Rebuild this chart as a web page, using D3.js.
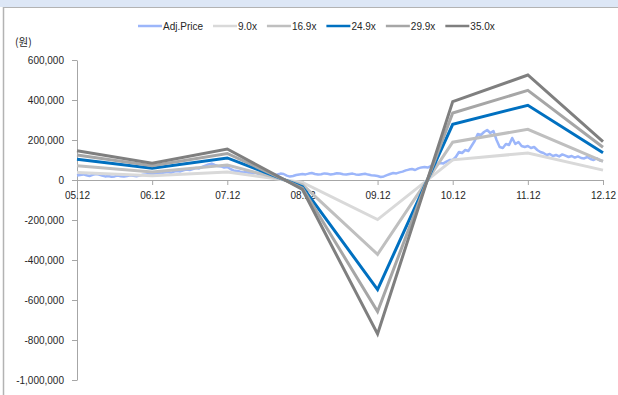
<!DOCTYPE html>
<html>
<head>
<meta charset="utf-8">
<script src="https://cdn.jsdelivr.net/npm/d3@7"></script>
<style>
  html, body { margin: 0; padding: 0; background: #fff; }
  svg { display: block; font-family: "Liberation Sans", Arial, "Noto Sans CJK KR", sans-serif; }
</style>
</head>
<body>
<svg id="chart" width="618" height="395"></svg>
<script>
// Year-end categories (yy.mm)
const categories = ["05.12", "06.12", "07.12", "08.12", "09.12", "10.12", "11.12", "12.12"];

// PER band values (won) at each year end
const band90  = [37700, 21400, 39900, -12200, -198000, 100700, 135000, 49300];
const band169 = [70800, 40200, 74900, -22800, -371800, 189100, 253500, 92600];
const band249 = [104300, 59300, 110300, -33600, -547800, 278600, 373500, 136500];
const band299 = [125300, 71200, 132500, -40400, -657800, 334600, 448500, 163900];
const band350 = [146700, 83300, 155100, -47300, -770000, 391700, 525000, 191800];

const bandNames = ["9.0x", "16.9x", "24.9x", "29.9x", "35.0x"];

// Adjusted share price (won), twice a month from 05.12 to 12.12
const adjPrice = [
  22000, 25000, 28000, 24000, 20000, 26000, 30000, 27000, 22000, 18000, 20000, 16000,
  18000, 22000, 19000, 17000, 20000, 24000, 21000, 19000, 22000, 26000, 28000, 30000,
  30000, 32000, 35000, 33000, 38000, 40000, 36000, 42000, 45000, 43000, 48000, 52000,
  50000, 55000, 60000, 58000, 65000, 72000, 78000, 82000, 75000, 70000, 68000, 62000,
  65000, 55000, 48000, 45000, 42000, 38000, 40000, 35000, 32000, 36000, 30000, 28000,
  33000, 35000, 30000, 26000, 28000, 32000, 30000, 22000, 17000, 20000, 25000, 28000,
  30000, 28000, 32000, 35000, 30000, 27000, 29000, 33000, 31000, 28000, 30000, 34000,
  32000, 29000, 27000, 30000, 32000, 28000, 26000, 29000, 31000, 27000, 24000, 22000,
  20000, 15000, 18000, 24000, 30000, 35000, 33000, 38000, 42000, 48000, 52000, 55000,
  50000, 58000, 63000, 65000, 62000, 70000, 75000, 80000, 85000, 83000, 92000, 100000,
  100000, 115000, 140000, 135000, 150000, 145000, 170000, 195000, 230000, 225000, 240000, 250000,
  235000, 245000, 200000, 165000, 160000, 180000, 175000, 210000, 180000, 190000, 170000, 165000,
  170000, 160000, 165000, 150000, 140000, 135000, 125000, 130000, 120000, 125000, 118000, 128000,
  122000, 115000, 120000, 112000, 118000, 110000, 108000, 115000, 105000, 100000, 108000, 98000,
  95000
];
const samplesPerYear = 24;

const yTicks = [600000, 400000, 200000, 0, -200000, -400000, -600000, -800000, -1000000];

// ---- drawing ----
const svg = d3.select("#chart");
const W = 618, H = 395;
const plotLeft = 77, plotRight = 603, plotTop = 60, plotBottom = 380;

// frame
svg.append("rect").attr("x", 0).attr("y", 0).attr("width", W).attr("height", 7).attr("fill", "#dde7f6");
svg.append("line").attr("x1", 3).attr("x2", W).attr("y1", 7.5).attr("y2", 7.5).attr("stroke", "#b3b3b3");
svg.append("line").attr("x1", 3.5).attr("x2", 3.5).attr("y1", 7).attr("y2", H).attr("stroke", "#b3b3b3").attr("stroke-width", 1.5);

const x = d3.scalePoint().domain(categories).range([plotLeft, plotRight]);
const xYears = d3.scaleLinear().domain([0, categories.length - 1]).range([plotLeft, plotRight]);
const y = d3.scaleLinear().domain([-1000000, 600000]).range([plotBottom, plotTop]);

const locale = d3.formatLocale({ decimal: ".", thousands: ",", grouping: [3], currency: ["", ""], minus: "-" });
const fmt = locale.format(",");

const axisColor = "#a6a6a6";
const textColor = "#262626";

// y axis
const yAxis = svg.append("g")
  .attr("transform", `translate(${plotLeft},0)`)
  .call(d3.axisLeft(y).tickValues(yTicks).tickFormat(fmt).tickSize(5).tickSizeOuter(0).tickPadding(8));
yAxis.select(".domain").attr("stroke", axisColor);
yAxis.selectAll(".tick line").attr("stroke", axisColor);
yAxis.selectAll(".tick text").attr("fill", textColor).attr("font-size", 10);

// unit label
svg.append("text").attr("x", 15).attr("y", 46).attr("font-size", 10.5).attr("fill", textColor)
  .attr("font-family", "\"Noto Sans CJK KR\", sans-serif").text("(원)");

// x axis along zero
const xAxis = svg.append("g")
  .attr("transform", `translate(0,${y(0)})`)
  .call(d3.axisBottom(x).tickSize(5).tickSizeOuter(0).tickPadding(7));
xAxis.select(".domain").attr("stroke", axisColor);
xAxis.selectAll(".tick line").attr("stroke", axisColor);
xAxis.selectAll(".tick text").attr("fill", textColor).attr("font-size", 10);

// price line (drawn first, behind the bands)
const priceLine = d3.line()
  .x((d, i) => xYears(i / samplesPerYear))
  .y(d => y(d));
svg.append("path").datum(adjPrice)
  .attr("fill", "none").attr("stroke", "#9cb6fa").attr("stroke-width", 2.5)
  .attr("stroke-linejoin", "round").attr("d", priceLine);

// PER band lines
const bands = [band90, band169, band249, band299, band350];
const bandColors = ["#d9d9d9", "#bfbfbf", "#0070c0", "#a6a6a6", "#7f7f7f"];
const bandLine = d3.line().x((d, i) => x(categories[i])).y(d => y(d));
bands.forEach((vals, k) => {
  svg.append("path").datum(vals)
    .attr("fill", "none").attr("stroke", bandColors[k]).attr("stroke-width", 3)
    .attr("stroke-linejoin", "miter").attr("d", bandLine);
});

// legend
const legendItems = [{ name: "Adj.Price", color: "#9cb6fa" }]
  .concat(bandNames.map((n, k) => ({ name: n, color: bandColors[k] })));
const legend = svg.append("g").attr("transform", "translate(138,26)");
let lx = 0;
legendItems.forEach(item => {
  const g = legend.append("g").attr("transform", `translate(${lx},0)`);
  g.append("line").attr("x1", 0).attr("x2", 24).attr("y1", 0).attr("y2", 0)
    .attr("stroke", item.color).attr("stroke-width", 2.5);
  const t = g.append("text").attr("x", 25).attr("y", 0).attr("dy", "0.35em")
    .attr("font-size", 10).attr("fill", textColor).text(item.name);
  lx += 25 + t.node().getComputedTextLength() + 10;
});
</script>
</body>
</html>
